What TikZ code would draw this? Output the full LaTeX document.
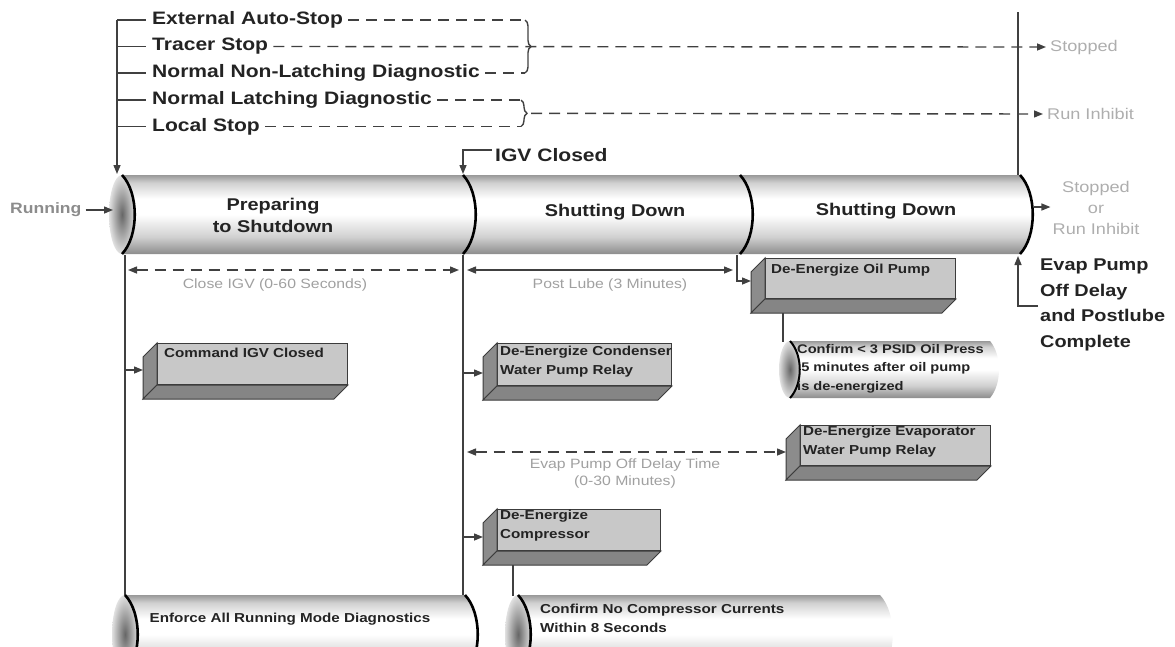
\documentclass[tikz,border=0pt]{standalone}
\usepackage{fontspec}
\setmainfont{Liberation Sans}[FakeStretch=1.17]
\usetikzlibrary{arrows.meta,decorations.pathreplacing,calc}
\pgfdeclareverticalshading{tubeshade}{100bp}{color(0bp)=(black!45); color(25bp)=(black!45); color(36bp)=(black!18); color(50bp)=(white); color(60bp)=(white); color(70bp)=(black!18); color(75bp)=(black!40); color(100bp)=(black!40)}
\definecolor{frontc}{RGB}{200,200,200}
\definecolor{sidec}{RGB}{140,140,140}
\definecolor{edgec}{RGB}{60,60,60}
\definecolor{lgray}{RGB}{160,160,160}
\definecolor{txt}{RGB}{35,35,35}
\newcommand{\threedbox}[5]{%
  \node[boxface, minimum width=#4, minimum height=#5] (#1) at (#2,#3) {};
  \filldraw[fill=sidec, draw=edgec, line width=1pt] (#1.north west) -- (#1.south west) -- ++(-14,14) -- ($(#1.north west)+(-14,14)$) -- cycle;
  \filldraw[fill=sidec!95!black, draw=edgec, line width=1pt] (#1.south west) -- (#1.south east) -- ++(-14,14) -- ($(#1.south west)+(-14,14)$) -- cycle;
}
\begin{document}
\begin{tikzpicture}[x=1pt,y=-1pt,
  biglbl/.style={font=\fontsize{18}{21}\selectfont\bfseries, text=txt, anchor=west, inner sep=0pt},
  tubelbl/.style={font=\fontsize{17}{22}\selectfont\bfseries, text=txt, align=center, inner sep=0pt},
  boxlbl/.style={font=\fontsize{13}{19}\selectfont\bfseries, text=txt, align=left, anchor=north west, inner sep=0pt},
  graylbl/.style={font=\fontsize{13.5}{17}\selectfont, text=lgray, align=center, inner sep=0pt},
  rgray/.style={font=\fontsize{15.5}{21}\selectfont, text=lgray!85, align=center, inner sep=0pt},
  conn/.style={line width=1.4pt, draw=black!75},
  dconn/.style={conn, dash pattern=on 11pt off 7pt},
  tipr/.style={-{Triangle[length=9pt,width=7pt]}},
  tipb/.style={{Triangle[length=9pt,width=7pt]}-{Triangle[length=9pt,width=7pt]}},
  sep/.style={line width=2.6pt, black},
  boxface/.style={draw=edgec, fill=frontc, line width=1pt, anchor=north west, inner sep=0pt},
  capshade/.style={inner color=black!60, outer color=black!12},
]
\useasboundingbox (0,0) rectangle (1175,646);

% ---------- main tube ----------
\shade[capshade] (122,214.5) ellipse [x radius=13, y radius=39.5];
\shade[shading=tubeshade] (122,175) .. controls (139,193) and (139,236) .. (122,254) -- (1020,254) .. controls (1037,236) and (1037,193) .. (1020,175) -- cycle;
\foreach \xx in {122,463,740,1020}{
  \draw[sep] (\xx,175) .. controls (\xx+17,193) and (\xx+17,236) .. (\xx,254);
}
\node[tubelbl] (prep) at (273,215) {Preparing\\to Shutdown};
\node[tubelbl] (sd1) at (615,212) {Shutting Down};
\node[tubelbl] (sd2) at (886,211) {Shutting Down};

% ---------- inputs on the left ----------
\node[biglbl] (la) at (152,20) {External Auto-Stop};
\node[biglbl] (lb) at (152,46.5) {Tracer Stop};
\node[biglbl] (lc) at (152,73) {Normal Non-Latching Diagnostic};
\node[biglbl] (ld) at (152,100) {Normal Latching Diagnostic};
\node[biglbl] (le) at (152,126.5) {Local Stop};
\coordinate (vtop) at (117,20);
\coordinate (vbot) at (117,174);
\draw[conn, tipr] (vtop) -- (vbot);
\foreach \n in {la,lb,lc,ld,le}{
  \draw[conn] (vtop |- \n.west) -- ([xshift=-6pt]\n.west);
}
\coordinate (bra1) at (525,20);
\coordinate (brb1) at (525,73);
\coordinate (bra2) at (521,100);
\coordinate (brb2) at (521,126.5);
\draw[dconn] ([xshift=5pt]la.east) -- (bra1);
\draw[dconn] ([xshift=5pt]lc.east) -- (brb1);
\draw[dconn] ([xshift=5pt]ld.east) -- (bra2);
\draw[dconn] ([xshift=5pt]le.east) -- (brb2);
\draw[conn, decorate, decoration={brace, amplitude=6pt}] (bra1) -- (brb1);
\draw[conn, decorate, decoration={brace, amplitude=6pt}] (bra2) -- (brb2);

\node[rgray, anchor=west] (stp) at (1050,47) {Stopped};
\node[rgray, anchor=west] (rinh) at (1047,114) {Run Inhibit};
\draw[dconn, tipr] ([xshift=5pt]lb.east) -- ([xshift=-4pt]stp.west);
\draw[dconn, tipr] (531,113.3) -- ([xshift=-4pt]rinh.west);
\coordinate (rtop) at (1018,12);
\coordinate (rbot) at (1018,175);
\draw[conn] (rtop) -- (rbot);

% IGV closed
\node[biglbl] (igv) at (495,155) {IGV Closed};
\draw[conn, tipr] ([xshift=-3pt,yshift=5pt]igv.west) -| (463,174);

% Running
\node[rgray, text=black!45, anchor=west, font=\fontsize{15}{18}\selectfont\bfseries] (run) at (10,210) {Running};
\draw[conn, tipr] ([xshift=4pt]run.east) -- (113,210);

% right end
\node[rgray] (stopor) at (1096,208) {Stopped\\or\\Run Inhibit};
\draw[conn, tipr] (1034,207) -- ([xshift=-2pt]stopor.west |- 0,207);
\node[font=\fontsize{17}{25.5}\selectfont\bfseries, text=txt, align=left, anchor=north west, inner sep=0pt] (evd) at (1040,259) {Evap Pump\\Off Delay\\and Postlube\\Complete};
\draw[conn, tipr] ([xshift=-2pt]evd.west |- 0,306) -| (1018,256);

% ---------- timing arrows ----------
\draw[dconn, tipb] (128,270) -- (459,270);
\node[graylbl] (cigv) at (275,285) {Close IGV (0-60 Seconds)};
\draw[conn, tipb] (467,270) -- (733,270);
\node[graylbl] (plube) at (610,285) {Post Lube (3 Minutes)};

% ---------- boxes ----------
\threedbox{cmd}{157}{343}{190}{41}
\node[boxlbl] at ($(cmd.north west)+(7,5)$) {Command IGV Closed};
\threedbox{cond}{497}{343}{174}{42}
\node[boxlbl] at ($(cond.north west)+(3,3)$) {De-Energize Condenser\\Water Pump Relay};
\threedbox{oil}{765}{258}{190}{40}
\node[boxlbl] at ($(oil.north west)+(6,6)$) {De-Energize Oil Pump};
\threedbox{evap}{800}{425}{190}{40}
\node[boxlbl] at ($(evap.north west)+(3,1)$) {De-Energize Evaporator\\Water Pump Relay};
\threedbox{comp}{497}{509}{163}{41}
\node[boxlbl] at ($(comp.north west)+(3,1)$) {De-Energize\\Compressor};

% vertical lines
\draw[conn] (125,255) -- (125,596);
\draw[conn] (463,255) -- (463,596);
\draw[conn, tipr] (125,370) -- ($(cmd.north west)+(-14,27)$);
\draw[conn, tipr] (463,373) -- ($(cond.north west)+(-14,30)$);
\draw[conn, tipr] (463,537) -- ($(comp.north west)+(-14,28)$);
\draw[conn, tipr] (737,255) |- ($(oil.north west)+(-14,23)$);
\draw[dconn, tipb] (467,452) -- ($(evap.north west)+(-14,27)$);
\node[graylbl] (evdl) at (625,473) {Evap Pump Off Delay Time\\(0-30 Minutes)};

% PSID tube
\shade[capshade] (790,369.5) ellipse [x radius=11, y radius=28.5];
\shade[shading=tubeshade] (790,341) .. controls (803,355) and (803,384) .. (790,398) -- (990,398) .. controls (1002,384) and (1002,355) .. (990,341) -- cycle;
\draw[sep, line width=2pt] (790,341) .. controls (803,355) and (803,384) .. (790,398);
\node[font=\fontsize{12.5}{18.5}\selectfont\bfseries, text=txt, align=left, anchor=north west, inner sep=0pt] (psid) at (797,344) {Confirm < 3 PSID Oil Press\\\ 5 minutes after oil pump\\is de-energized};
\coordinate (oilb) at ($(oil.south west)+(18,14)$);
\draw[conn] (oilb) -- (oilb |- 0,342);

% ---------- bottom tubes ----------
\begin{scope}
\clip (0,0) rectangle (1175,646);
\shade[capshade] (125,634.5) ellipse [x radius=13, y radius=39.5];
\shade[shading=tubeshade] (125,595) .. controls (142,613) and (142,656) .. (125,674) -- (465,674) .. controls (482,656) and (482,613) .. (465,595) -- cycle;
\draw[sep] (125,595) .. controls (142,613) and (142,656) .. (125,674);
\draw[sep] (465,595) .. controls (482,613) and (482,656) .. (465,674);
\shade[capshade] (518,634.5) ellipse [x radius=13, y radius=39.5];
\shade[shading=tubeshade] (518,595) .. controls (535,613) and (535,656) .. (518,674) -- (880,674) .. controls (897,656) and (897,613) .. (880,595) -- cycle;
\draw[sep] (518,595) .. controls (535,613) and (535,656) .. (518,674);
\end{scope}
\node[font=\fontsize{13}{19}\selectfont\bfseries, text=txt, inner sep=0pt] (enf) at (290,619) {Enforce All Running Mode Diagnostics};
\node[font=\fontsize{13}{19}\selectfont\bfseries, text=txt, align=left, anchor=west, inner sep=0pt] (cnc) at (540,618.5) {Confirm No Compressor Currents\\Within 8 Seconds};
\coordinate (compb) at ($(comp.south west)+(16,14)$);
\draw[conn] (compb) -- (compb |- 0,596);
\end{tikzpicture}
\end{document}
